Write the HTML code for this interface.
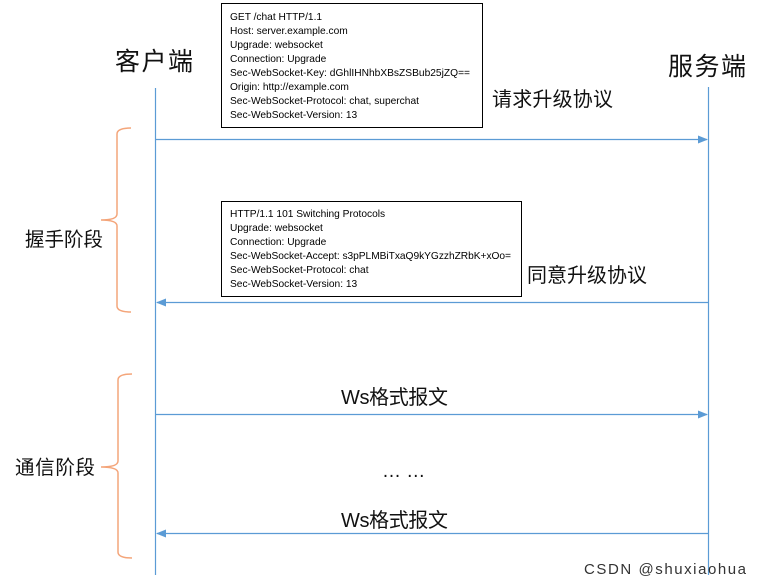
<!DOCTYPE html>
<html><head><meta charset="utf-8"><style>
body{margin:0;background:#fff;width:760px;height:584px;overflow:hidden}
svg{display:block}
.cn{font-family:"Liberation Sans","Noto Sans CJK SC",sans-serif;fill:#111}
.en{font-family:"Liberation Sans",sans-serif;font-size:10.2px;fill:#000}
</style></head><body>
<svg width="760" height="584" viewBox="0 0 760 584">
<defs><marker id="a" markerWidth="10" markerHeight="8" refX="9" refY="4" orient="auto" markerUnits="userSpaceOnUse"><path d="M0,0 L10,4 L0,8z" fill="#5b9bd5"/></marker></defs>
<g stroke="#5b9bd5" stroke-width="1.2" fill="none">
<line x1="155.5" y1="88" x2="155.5" y2="575"/>
<line x1="708.5" y1="87" x2="708.5" y2="575"/>
<line x1="155.5" y1="139.5" x2="707" y2="139.5" marker-end="url(#a)"/>
<line x1="708" y1="302.5" x2="157" y2="302.5" marker-end="url(#a)"/>
<line x1="155.5" y1="414.5" x2="707" y2="414.5" marker-end="url(#a)"/>
<line x1="708" y1="533.5" x2="157" y2="533.5" marker-end="url(#a)"/>
</g>
<g stroke="#f4a57a" stroke-width="1.5" fill="none">
<path d="M131,128 Q117,128 117,134 L117,214 Q117,220 101,220 Q117,220 117,226 L117,306 Q117,312 131,312"/>
<path d="M132,374 Q118,374 118,380 L118,461 Q118,467 101,467 Q118,467 118,473 L118,552 Q118,558 132,558"/>
</g>
<text class="cn" x="115" y="70" font-size="25" textLength="78">客户端</text>
<text class="cn" x="668" y="75" font-size="25" textLength="78">服务端</text>
<text class="cn" x="492" y="106" font-size="20" textLength="121">请求升级协议</text>
<text class="cn" x="527" y="282" font-size="20" textLength="120">同意升级协议</text>
<text class="cn" x="25" y="246" font-size="19.5" textLength="78">握手阶段</text>
<text class="cn" x="15" y="474" font-size="19.5" textLength="80">通信阶段</text>
<text class="cn" x="341" y="404" font-size="20" textLength="107">Ws格式报文</text>
<text class="cn" x="382" y="477" font-size="19">… …</text>
<text class="cn" x="341" y="527" font-size="20" textLength="107">Ws格式报文</text>
<rect x="221.5" y="3.5" width="261" height="124" fill="#fff" stroke="#000" stroke-width="1"/>
<g class="en">
<text x="230" y="20">GET /chat HTTP/1.1</text>
<text x="230" y="34">Host: server.example.com</text>
<text x="230" y="48">Upgrade: websocket</text>
<text x="230" y="62">Connection: Upgrade</text>
<text x="230" y="76" textLength="240">Sec-WebSocket-Key: dGhlIHNhbXBsZSBub25jZQ==</text>
<text x="230" y="90">Origin: http://example.com</text>
<text x="230" y="104">Sec-WebSocket-Protocol: chat, superchat</text>
<text x="230" y="118">Sec-WebSocket-Version: 13</text>
</g>
<rect x="221.5" y="201.5" width="300" height="95" fill="#fff" stroke="#000" stroke-width="1"/>
<g class="en">
<text x="230" y="217">HTTP/1.1 101 Switching Protocols</text>
<text x="230" y="231">Upgrade: websocket</text>
<text x="230" y="245">Connection: Upgrade</text>
<text x="230" y="259" textLength="281">Sec-WebSocket-Accept: s3pPLMBiTxaQ9kYGzzhZRbK+xOo=</text>
<text x="230" y="273">Sec-WebSocket-Protocol: chat</text>
<text x="230" y="287">Sec-WebSocket-Version: 13</text>
</g>
<text x="584" y="574" font-family="Liberation Sans,sans-serif" font-size="15" fill="#333" textLength="162">CSDN @shuxiaohua</text>
</svg>
</body></html>
